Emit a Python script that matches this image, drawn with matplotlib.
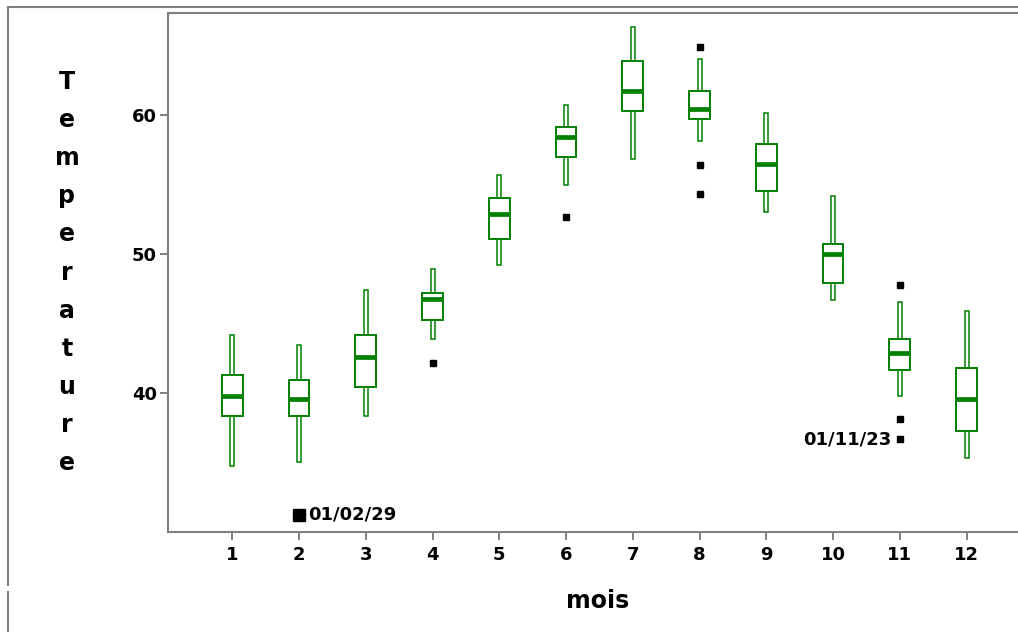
import matplotlib
matplotlib.use("Agg")
import matplotlib.pyplot as plt
from matplotlib.lines import Line2D
import numpy as np

# monthly temperature summaries
months = np.arange(1, 13)
whis_lo = [34.8, 35.1, 38.4, 43.9, 49.2, 55.0, 56.8, 58.1, 53.0, 46.7, 39.8, 35.4]
q1 = [38.4, 38.4, 40.5, 45.3, 51.1, 57.0, 60.3, 59.7, 54.5, 47.9, 41.7, 37.3]
med = [39.8, 39.6, 42.6, 46.8, 52.9, 58.4, 61.7, 60.4, 56.5, 50.0, 42.9, 39.6]
q3 = [41.3, 41.0, 44.2, 47.2, 54.0, 59.1, 63.9, 61.7, 57.9, 50.7, 43.9, 41.8]
whis_hi = [44.2, 43.5, 47.4, 48.9, 55.7, 60.7, 66.3, 64.0, 60.1, 54.2, 46.6, 45.9]

# outliers
out_month = [4, 6, 8, 8, 8, 11, 11, 11]
out_temp = [42.2, 52.7, 64.9, 56.4, 54.3, 47.8, 38.2, 36.7]

# labelled points
lab_month = [2, 11]
lab_temp = [31.3, 36.7]
lab_text = ["01/02/29", "01/11/23"]

green = "#008000"
grey = "#808080"
W, H = 1018, 632

fig = plt.figure(figsize=(W / 100, H / 100), dpi=100)
ax = fig.add_axes([168 / W, 100.3 / H, 1 - 168 / W, 518.7 / H])

q1 = np.array(q1)
q3 = np.array(q3)
whis_lo = np.array(whis_lo)
whis_hi = np.array(whis_hi)

# whiskers as thin hollow bars
ax.bar(months, q1 - whis_lo, bottom=whis_lo, width=0.06, color="white",
       edgecolor=green, linewidth=1.1)
ax.bar(months, whis_hi - q3, bottom=q3, width=0.06, color="white",
       edgecolor=green, linewidth=1.1)
# boxes
ax.bar(months, q3 - q1, bottom=q1, width=0.31, color="white",
       edgecolor=green, linewidth=1.4, zorder=3)
# medians
ax.hlines(med, months - 0.155, months + 0.155, colors=green, linewidth=3.4,
          zorder=4)

ax.plot(out_month, out_temp, "s", color="black", markersize=3.8, linestyle="none")
ax.plot(lab_month[0], lab_temp[0], "s", color="black", markersize=8.5)

ax.annotate(lab_text[0], (lab_month[0], lab_temp[0]), xytext=(6.5, 0),
            textcoords="offset points", ha="left", va="center",
            fontsize=13, fontweight="bold", family="DejaVu Sans")
ax.annotate(lab_text[1], (lab_month[1], lab_temp[1]), xytext=(-6, 0),
            textcoords="offset points", ha="right", va="center",
            fontsize=13, fontweight="bold", family="DejaVu Sans")

ax.set_xlim(0.037, 12.77)
ax.set_ylim(30.08, 67.31)
ax.set_xticks(months)
ax.set_yticks([40, 50, 60])

for s in ["left", "bottom", "top"]:
    ax.spines[s].set_color(grey)
    ax.spines[s].set_linewidth(1.5)
ax.spines["right"].set_visible(False)

ax.tick_params(direction="out", length=6, width=1.4, color=grey,
               labelsize=13, labelcolor="black")
ax.tick_params(axis="y", pad=2)
ax.tick_params(axis="x", pad=4)
for lbl in ax.get_xticklabels() + ax.get_yticklabels():
    lbl.set_fontweight("bold")

# stacked axis title
for i, ch in enumerate("Temperature"):
    fig.text(67 / W, 1 - (89 + 38.1 * i) / H, ch, ha="center", va="baseline",
             fontsize=17, fontweight="bold")
fig.text(598 / W, 1 - 608 / H, "mois", ha="center", va="baseline",
         fontsize=17, fontweight="bold")

# window frame
fig.add_artist(Line2D([8 / W, 1], [1 - 6.5 / H, 1 - 6.5 / H], color=grey, lw=1.5))
fig.add_artist(Line2D([8 / W, 8 / W], [1 - 6.5 / H, 1 - 585 / H], color=grey, lw=1.5))
fig.add_artist(Line2D([8 / W, 8 / W], [1 - 592 / H, 0], color=grey, lw=1.5))

fig.savefig("out.png", dpi=100, facecolor="white")
